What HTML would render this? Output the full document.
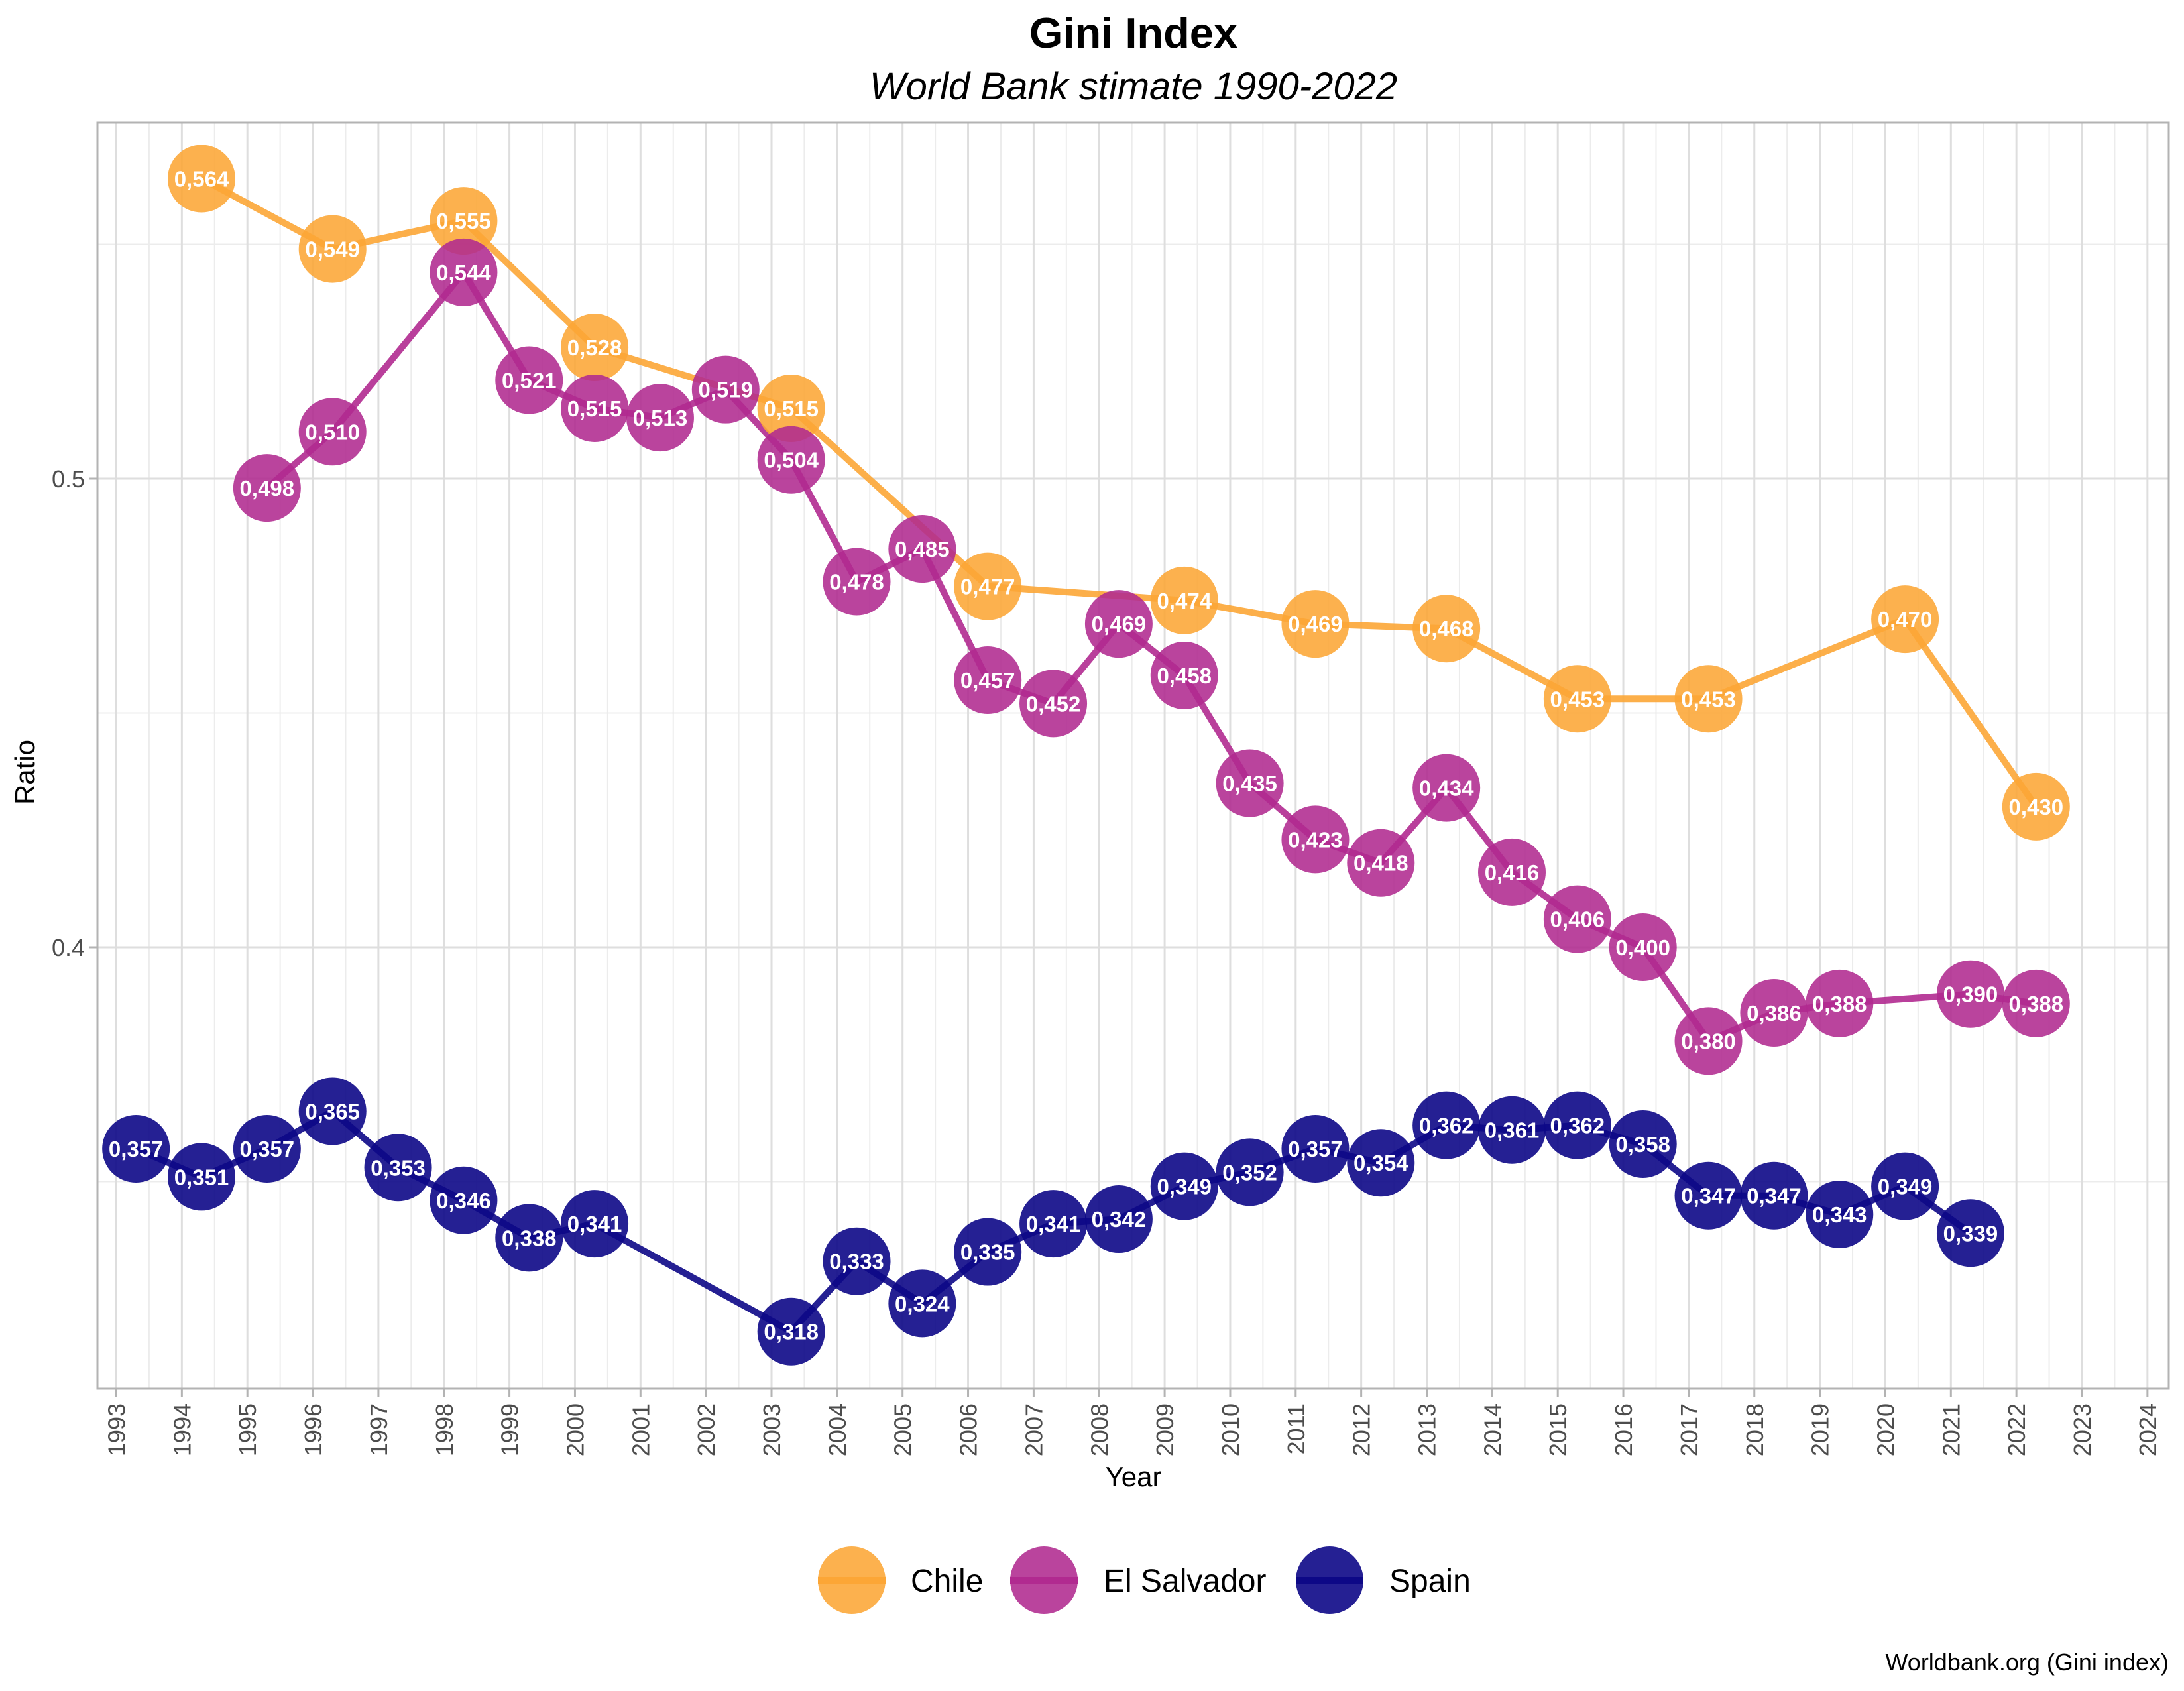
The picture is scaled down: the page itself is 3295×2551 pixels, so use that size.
<!DOCTYPE html>
<html><head><meta charset="utf-8"><style>
html,body{margin:0;padding:0;background:#fff;}
svg{display:block;font-family:"Liberation Sans",Arial,sans-serif;}
</style></head><body>
<svg id="chart" width="3295" height="2551" viewBox="0 0 3295 2551" xmlns="http://www.w3.org/2000/svg">
<text x="1710" y="72" text-anchor="middle" font-size="65" font-weight="bold" fill="#000">Gini Index</text>
<text x="1710" y="150" text-anchor="middle" font-size="58" font-style="italic" fill="#000">World Bank stimate 1990-2022</text>
<g id="grid"></g>
<g id="series"></g>
<rect x="147" y="185" width="3125" height="1910" fill="none" stroke="#b3b3b3" stroke-width="3"/>
<g id="axes"></g>
<text x="1710" y="2242" text-anchor="middle" font-size="42" fill="#000">Year</text>
<text transform="translate(52,1165) rotate(-90)" text-anchor="middle" font-size="42" fill="#000">Ratio</text>
<g id="legend"></g>
<text x="3272" y="2520" text-anchor="end" font-size="36" fill="#000">Worldbank.org (Gini index)</text>
</svg>
<script>
const chileYears=[1994,1996,1998,2000,2003,2006,2009,2011,2013,2015,2017,2020,2022];
const chileValues=[0.564,0.549,0.555,0.528,0.515,0.477,0.474,0.469,0.468,0.453,0.453,0.470,0.430];
const salvadorYears=[1995,1996,1998,1999,2000,2001,2002,2003,2004,2005,2006,2007,2008,2009,2010,2011,2012,2013,2014,2015,2016,2017,2018,2019,2021,2022];
const salvadorValues=[0.498,0.510,0.544,0.521,0.515,0.513,0.519,0.504,0.478,0.485,0.457,0.452,0.469,0.458,0.435,0.423,0.418,0.434,0.416,0.406,0.400,0.380,0.386,0.388,0.390,0.388];
const spainYears=[1993,1994,1995,1996,1997,1998,1999,2000,2003,2004,2005,2006,2007,2008,2009,2010,2011,2012,2013,2014,2015,2016,2017,2018,2019,2020,2021];
const spainValues=[0.357,0.351,0.357,0.365,0.353,0.346,0.338,0.341,0.318,0.333,0.324,0.335,0.341,0.342,0.349,0.352,0.357,0.354,0.362,0.361,0.362,0.358,0.347,0.347,0.343,0.349,0.339];
const xTickYears=[1993,1994,1995,1996,1997,1998,1999,2000,2001,2002,2003,2004,2005,2006,2007,2008,2009,2010,2011,2012,2013,2014,2015,2016,2017,2018,2019,2020,2021,2022,2023,2024];
const yTickValues=[0.4,0.5];
const yTickLabels=["0.4","0.5"];
const yMinorValues=[0.35,0.45,0.55];
const seriesNames=["Chile","El Salvador","Spain"];

const NS="http://www.w3.org/2000/svg";
const PL=147,PR=3272,PT=185,PB=2095;
function xs(yr){return 175.5+(yr-1993)*98.85;}
function ys(v){return 722-(v-0.5)*7070;}
const OFF=0.3;
function mk(tag,attrs,parent){const e=document.createElementNS(NS,tag);for(const k in attrs)e.setAttribute(k,attrs[k]);parent.appendChild(e);return e;}
const grid=document.getElementById('grid');
const axes=document.getElementById('axes');
const series=document.getElementById('series');
const legend=document.getElementById('legend');

for(const v of yMinorValues){const l=mk('line',{x1:PL,x2:PR,y1:ys(v),y2:ys(v),stroke:'#ececec','stroke-width':2},grid);

}
for(let i=0;i<xTickYears.length;i++){const yr=xTickYears[i];
 if(i<xTickYears.length-1){const m=mk('line',{x1:xs(yr+0.5),x2:xs(yr+0.5),y1:PT,y2:PB,stroke:'#ececec','stroke-width':2},grid);
 
 }
 const g=mk('line',{x1:xs(yr),x2:xs(yr),y1:PT,y2:PB,stroke:'#dedede','stroke-width':3},grid);
 
 
 const t=mk('line',{x1:xs(yr),x2:xs(yr),y1:PB,y2:PB+12,stroke:'#b3b3b3','stroke-width':3},axes);
 
 
 const lb=mk('text',{transform:`translate(${xs(yr)+13},2117) rotate(-90)`,'text-anchor':'end','font-size':36,fill:'#4d4d4d'},axes);
 lb.textContent=yr;
 
 }
for(let i=0;i<yTickValues.length;i++){const v=yTickValues[i];
 const g=mk('line',{x1:PL,x2:PR,y1:ys(v),y2:ys(v),stroke:'#dedede','stroke-width':3},grid);
 
 
 const t=mk('line',{x1:PL-12,x2:PL,y1:ys(v),y2:ys(v),stroke:'#b3b3b3','stroke-width':3},axes);
 
 
 const lb=mk('text',{x:128,y:ys(v)+13,'text-anchor':'end','font-size':36,fill:'#4d4d4d'},axes);
 lb.textContent=yTickLabels[i];
 
 }

const colors=["#FCA636","#B12A90","#0D0887"];
const fills=["rgba(252,166,54,0.88)","rgba(177,42,144,0.88)","rgba(13,8,135,0.9)"];
const allYears=[chileYears,salvadorYears,spainYears];
const allVals=[chileValues,salvadorValues,spainValues];
const keys=["chile","el-salvador","spain"];
for(let s=0;s<3;s++){
 const yrs=allYears[s],vals=allVals[s];
 const pts=yrs.map((y,i)=>`${xs(y+OFF)},${ys(vals[i])}`).join(' ');
 const pl=mk('polyline',{points:pts,fill:'none',stroke:colors[s],'stroke-width':10,'stroke-opacity':0.9,'stroke-linejoin':'round'},series);
 
 
}
for(let s=0;s<3;s++){
 const yrs=allYears[s],vals=allVals[s];
 for(let i=0;i<yrs.length;i++){
  const cx=xs(yrs[i]+OFF),cy=ys(vals[i]);
  const c=mk('circle',{cx:cx,cy:cy,r:51,fill:fills[s]},series);
  
  
  const t=mk('text',{x:cx,y:cy+12,'text-anchor':'middle','font-size':33,'font-weight':'bold',fill:'#fff'},series);
  t.textContent=vals[i].toFixed(3).replace('.',',');
  
  
 }
}
const lgX=[1285,1575,2006],txX=[1374,1665,2096];
for(let s=0;s<3;s++){
 const c=mk('circle',{cx:lgX[s],cy:2384,r:51,fill:fills[s]},legend);
 
 
 const l=mk('line',{x1:lgX[s]-51,x2:lgX[s]+51,y1:2384,y2:2384,stroke:colors[s],'stroke-width':10},legend);
 
 
 const t=mk('text',{x:txX[s],y:2401,'font-size':48,fill:'#000'},legend);
 t.textContent=seriesNames[s];
 
 
}
</script>
</body></html>
